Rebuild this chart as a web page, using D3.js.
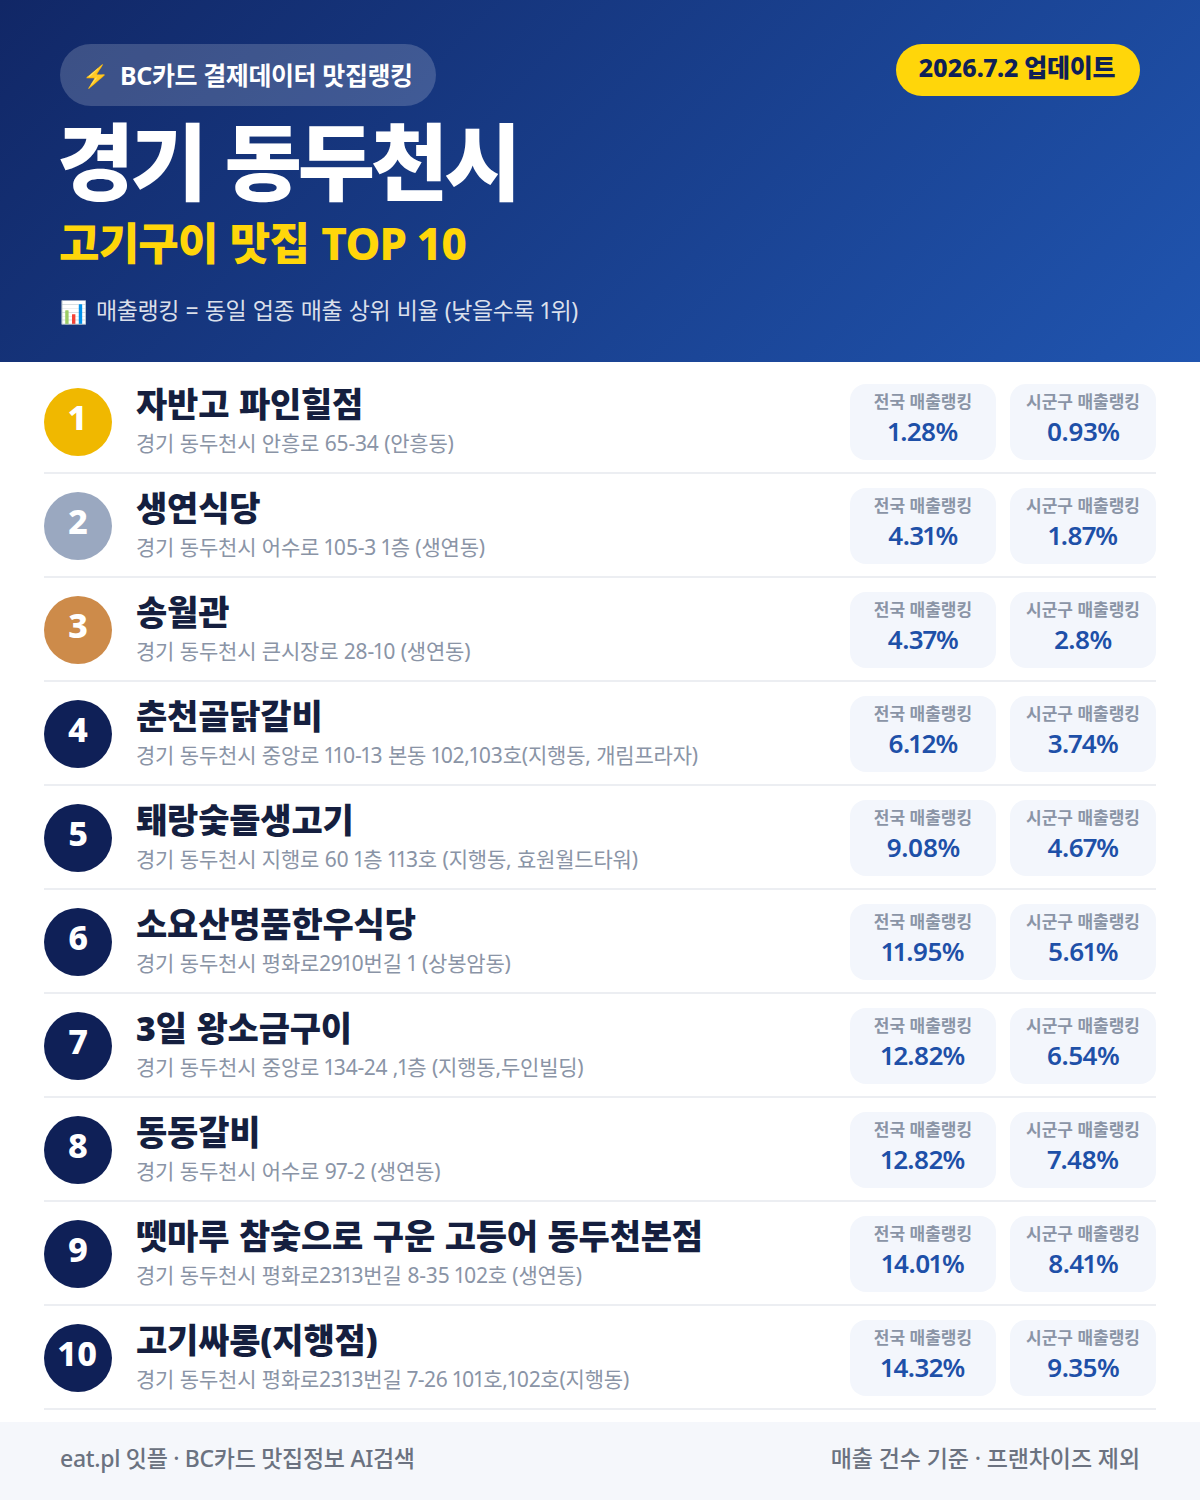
<!DOCTYPE html>
<html lang="ko">
<head>
<meta charset="utf-8">
<script src="https://cdn.jsdelivr.net/npm/d3@7.9.0/dist/d3.min.js"></script>
<style>
  html, body { margin: 0; padding: 0; background: #fff; }
  svg { display: block; font-family: "Noto Sans", "Noto Sans CJK KR", sans-serif; font-variant-numeric: proportional-nums; font-feature-settings: "pnum" 1; }
</style>
</head>
<body>
<div id="chart"></div>
<script>
// Chart content
const badgeText = '⚡';
const badgeLabel = 'BC카드 결제데이터 맛집랭킹';
const updateLabel = '2026.7.2 업데이트';
const cityTitle = '경기 동두천시';
const subTitle = '고기구이 맛집 TOP 10';
const noteIcon = '📊';
const noteLabel = '매출랭킹 = 동일 업종 매출 상위 비율 (낮을수록 1위)';
const footerLeft = 'eat.pl 잇플 · BC카드 맛집정보 AI검색';
const footerRight = '매출 건수 기준 · 프랜차이즈 제외';
const nationalLabel = '전국 매출랭킹';
const districtLabel = '시군구 매출랭킹';

const ranks = [1, 2, 3, 4, 5, 6, 7, 8, 9, 10];
const names = ['자반고 파인힐점', '생연식당', '송월관', '춘천골닭갈비', '퇘랑숯돌생고기',
  '소요산명품한우식당', '3일 왕소금구이', '동동갈비', '뗏마루 참숯으로 구운 고등어 동두천본점', '고기싸롱(지행점)'];
const addresses = ['경기 동두천시 안흥로 65-34 (안흥동)', '경기 동두천시 어수로 105-3 1층 (생연동)',
  '경기 동두천시 큰시장로 28-10 (생연동)', '경기 동두천시 중앙로 110-13 본동 102,103호(지행동, 개림프라자)',
  '경기 동두천시 지행로 60 1층 113호 (지행동, 효원월드타워)', '경기 동두천시 평화로2910번길 1 (상봉암동)',
  '경기 동두천시 중앙로 134-24 ,1층 (지행동,두인빌딩)', '경기 동두천시 어수로 97-2 (생연동)',
  '경기 동두천시 평화로2313번길 8-35 102호 (생연동)', '경기 동두천시 평화로2313번길 7-26 101호,102호(지행동)'];
const nationalPct = ['1.28%', '4.31%', '4.37%', '6.12%', '9.08%', '11.95%', '12.82%', '12.82%', '14.01%', '14.32%'];
const districtPct = ['0.93%', '1.87%', '2.8%', '3.74%', '4.67%', '5.61%', '6.54%', '7.48%', '8.41%', '9.35%'];

const width = 1200, height = 1500;
const navy = '#0f2057';

const svg = d3.select('#chart').append('svg')
  .attr('width', width).attr('height', height)
  .attr('viewBox', `0 0 ${width} ${height}`);

const grad = svg.append('defs').append('linearGradient')
  .attr('id', 'head').attr('gradientUnits', 'userSpaceOnUse')
  .attr('x1', 210).attr('y1', -210).attr('x2', 990).attr('y2', 572);
grad.append('stop').attr('offset', 0).attr('stop-color', '#112766');
grad.append('stop').attr('offset', 1).attr('stop-color', '#2055b0');

function label(g, x, y, str, size, weight, fill, anchor = 'start', spacing = 0, words = 0) {
  return g.append('text').attr('x', x).attr('y', y).text(str)
    .attr('font-size', size).attr('font-weight', weight).attr('fill', fill)
    .attr('text-anchor', anchor).attr('letter-spacing', spacing).attr('word-spacing', words);
}

// Header
const header = svg.append('g');
header.append('rect').attr('width', width).attr('height', 362).attr('fill', 'url(#head)');
header.append('rect').attr('x', 60).attr('y', 44).attr('width', 376).attr('height', 62).attr('rx', 31)
  .attr('fill', '#fff').attr('fill-opacity', 0.18);
label(header, 82, 84, badgeText, 22, 400, '#ffd60a');
label(header, 120, 85, badgeLabel, 25, 700, '#fff', 'start', -0.4);
header.append('rect').attr('x', 896).attr('y', 44).attr('width', 244).attr('height', 52).attr('rx', 26)
  .attr('fill', '#ffd60a');
label(header, 1017, 77, updateLabel, 25, 800, navy, 'middle', -0.25);
label(header, 57, 194, cityTitle, 84, 900, '#fff', 'start', -4, 3);
label(header, 59, 260, subTitle, 44, 800, '#ffd60a', 'start', -0.8, 1.5);
label(header, 60, 320, noteIcon, 22, 400, '#fff');
label(header, 96, 319, noteLabel, 23, 400, '#fff', 'start', -0.4, 0.9).attr('fill-opacity', 0.85);

// Rows
const rowY = d3.scaleBand().domain(ranks).range([370, 1410]);
const rankColor = d3.scaleOrdinal().domain([1, 2, 3]).range(['#f0b800', '#9aa8c0', '#cd8b4a']).unknown(navy);

const rows = svg.append('g').selectAll('g').data(ranks).join('g')
  .attr('transform', d => `translate(0,${rowY(d)})`);

rows.append('line').attr('x1', 44).attr('x2', 1156)
  .attr('y1', rowY.bandwidth() - 1).attr('y2', rowY.bandwidth() - 1)
  .attr('stroke', '#eceef2').attr('stroke-width', 2);
rows.append('circle').attr('cx', 78).attr('cy', 52).attr('r', 34).attr('fill', d => rankColor(d));
rows.append('text').attr('x', 78).attr('y', 60).attr('text-anchor', 'middle')
  .attr('font-size', 34).attr('font-weight', 800).attr('fill', '#fff').text(d => d);
rows.append('text').attr('x', 136).attr('y', 47).attr('font-size', 34).attr('font-weight', 900)
  .attr('letter-spacing', -0.2).attr('word-spacing', 1).attr('fill', '#151f3f').text((d, i) => names[i]);
rows.append('text').attr('x', 136).attr('y', 81).attr('font-size', 21).attr('font-weight', 400)
  .attr('letter-spacing', -0.2).attr('word-spacing', 0.3).attr('fill', '#8a94a6').text((d, i) => addresses[i]);

// Ranking cards
const cards = [
  { x: 850, w: 146, title: nationalLabel, values: nationalPct },
  { x: 1010, w: 146, title: districtLabel, values: districtPct },
];
cards.forEach(c => {
  rows.append('rect').attr('x', c.x).attr('y', 14).attr('width', c.w).attr('height', 76).attr('rx', 16)
    .attr('fill', '#f3f6fc');
  rows.append('text').attr('x', c.x + c.w / 2).attr('y', 38).attr('text-anchor', 'middle')
    .attr('font-size', 17).attr('font-weight', 700).attr('fill', '#8a94a6').text(c.title);
  rows.append('text').attr('x', c.x + c.w / 2).attr('y', 71).attr('text-anchor', 'middle')
    .attr('font-size', 26).attr('font-weight', 600).attr('letter-spacing', -0.6).attr('fill', '#1e50a8').text((d, i) => c.values[i]);
});

// Footer
const footer = svg.append('g');
footer.append('rect').attr('y', 1422).attr('width', width).attr('height', 78).attr('fill', '#f5f7fb');
label(footer, 60, 1467, footerLeft, 23, 500, '#6b7280', 'start', -0.3);
label(footer, 1140, 1467, footerRight, 23, 500, '#6b7280', 'end', -0.1);
</script>
</body>
</html>
